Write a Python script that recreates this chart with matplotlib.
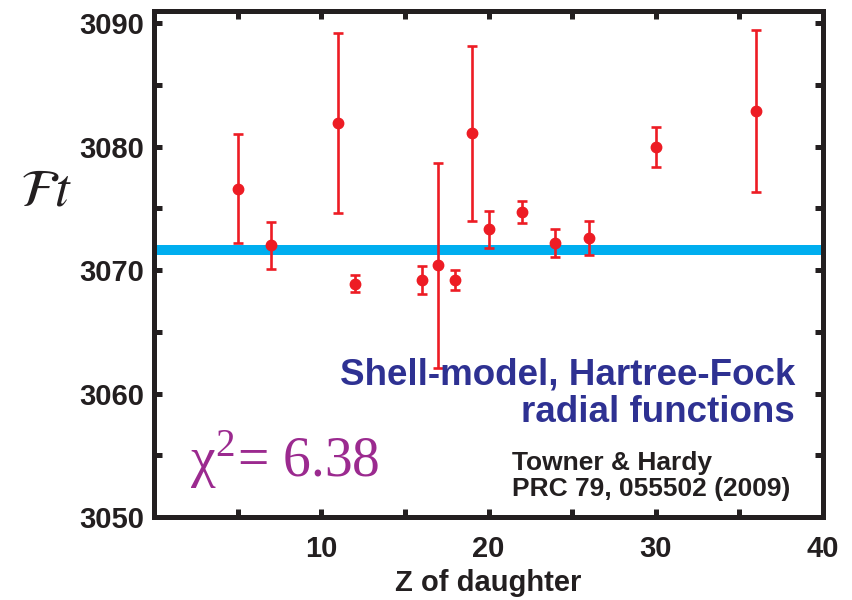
import numpy as np
import matplotlib.pyplot as plt
from matplotlib.ticker import MultipleLocator, FixedLocator

# Z of daughter, Ft value and its uncertainty
z_daughter = [5, 7, 11, 12, 16, 17, 18, 19, 20, 22, 24, 26, 30, 36]
ft_value = [3076.6, 3072.0, 3081.9, 3068.9, 3069.2, 3070.4, 3069.2,
            3081.1, 3073.3, 3074.7, 3072.2, 3072.6, 3080.0, 3082.9]
ft_error = [4.4, 1.9, 7.3, 0.7, 1.1, 8.3, 0.8, 7.1, 1.5, 0.9, 1.1, 1.4, 1.6, 6.6]

ft_average = 3071.6

x_ticks = [10, 20, 30, 40]
y_ticks = [3050, 3060, 3070, 3080, 3090]

red = '#ED1C24'
black = '#231F20'

fig = plt.figure(figsize=(8.52, 6.0), dpi=100)
ax = fig.add_axes([154 / 852, 83 / 600, 669 / 852, 506 / 600])

ax.axhline(ft_average, color='#00AEEF', lw=7.2, zorder=1)
ax.errorbar(z_daughter, ft_value, yerr=ft_error, fmt='o', color=red,
            ms=7.5, elinewidth=1.9, capsize=3.6, capthick=1.9, zorder=3)

ax.set_xlim(0, 40)
ax.set_ylim(3050, 3091)
ax.xaxis.set_major_locator(FixedLocator(x_ticks))
ax.xaxis.set_minor_locator(FixedLocator([5, 15, 25, 35]))
ax.yaxis.set_major_locator(FixedLocator(y_ticks))
ax.yaxis.set_minor_locator(MultipleLocator(5))

for s in ax.spines.values():
    s.set_linewidth(3.6)
    s.set_color(black)
ax.tick_params(which='both', direction='in', length=6, width=3.6, color=black,
               top=True, right=True)
ax.tick_params(which='major', labelsize=21, labelcolor=black)
ax.tick_params(axis='x', which='major', pad=13)
ax.tick_params(axis='y', which='major', pad=7)

for lab in ax.get_xticklabels() + ax.get_yticklabels():
    lab.set_fontfamily('Liberation Sans')
    lab.set_fontweight('bold')

ax.set_xlabel('Z of daughter', fontsize=21, fontweight='bold',
              family='Liberation Sans', color=black, labelpad=4)

plt.rcParams['mathtext.fontset'] = 'stix'
fig.text(0.054, 0.683, r'$\mathcal{F}\mathit{t}$', fontsize=38,
         ha='center', va='center', color=black)

ax.text(0.958, 0.243, 'Shell-model, Hartree-Fock\nradial functions',
        transform=ax.transAxes, ha='right', va='center', multialignment='right',
        fontsize=26.5, fontweight='bold', family='Liberation Sans',
        color='#2E3192', linespacing=1.1)

ax.text(0.535, 0.081, 'Towner & Hardy\nPRC 79, 055502 (2009)',
        transform=ax.transAxes, ha='left', va='center',
        fontsize=19, fontweight='bold', family='Liberation Sans',
        color=black, linespacing=1.1)

ax.text(0.054, 0.113, r'χ$^{\mathregular{2}}$= 6.38', transform=ax.transAxes,
        ha='left', va='center', fontsize=40, family='Liberation Serif',
        color='#9B2A8F')

fig.savefig('out.png', dpi=100)
